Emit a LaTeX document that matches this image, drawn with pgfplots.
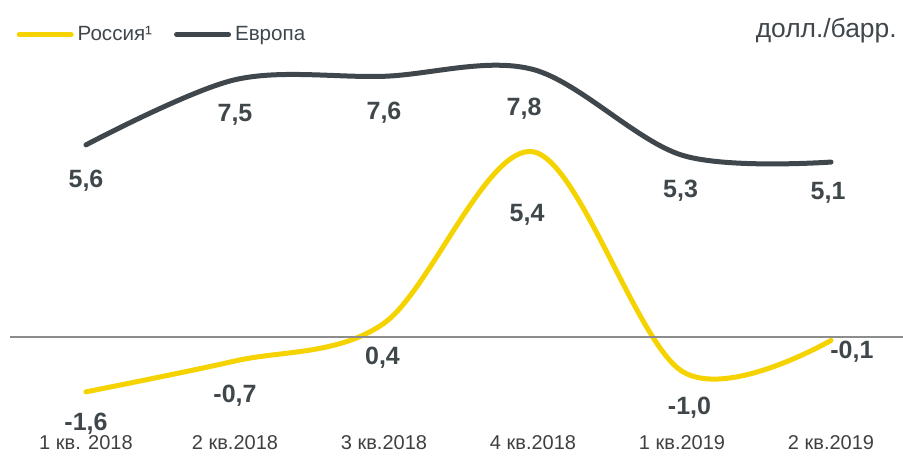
\documentclass[border=0pt]{standalone}
\usepackage{fontspec}
\setmainfont{Liberation Sans}
\usepackage{pgfplots}
\pgfplotsset{compat=1.18}
\definecolor{ruyel}{HTML}{F5D300}
\definecolor{eudark}{HTML}{3F474C}
\definecolor{lbl}{HTML}{3F474B}
\definecolor{tickc}{HTML}{404040}
\definecolor{zeroc}{HTML}{8C8C8C}
\begin{document}
\begin{tikzpicture}
\begin{axis}[
  scale only axis,
  width=451.5pt, height=216pt,
  xmin=-0.577, xmax=5.483,
  ymin=-2.77, ymax=9.825,
  axis line style={draw=none},
  tick style={draw=none},
  ytick=\empty,
  xtick={0,1,2,3,4,5},
  xticklabels={1 кв. 2018, 2 кв.2018, 3 кв.2018, 4 кв.2018, 1 кв.2019, 2 кв.2019},
  xticklabel style={font=\fontsize{10}{12}\selectfont, text=tickc, anchor=north, inner sep=0pt, yshift=-1.5pt},
  clip=false,
  legend columns=2,
  legend cell align=left,
  legend style={at={(0.018,0.95)}, anchor=north west, draw=none, fill=none, inner sep=0pt,
    font=\fontsize{10.3}{12}\selectfont, text=eudark,
    /tikz/every even column/.append style={column sep=9pt}},
  legend image code/.code={\draw[#1, line cap=round] (0pt,0pt) -- (26pt,0pt);},
]
\addplot[ruyel, line width=2.5pt, line cap=round, smooth, tension=0.55] coordinates {
  (0,-1.6) (1,-0.7) (2,0.4) (3,5.4) (4,-1.0) (5,-0.1)};
\addlegendentry{Россия¹}
\addplot[eudark, line width=2.5pt, line cap=round, smooth, tension=0.55] coordinates {
  (0,5.6) (1,7.5) (2,7.6) (3,7.8) (4,5.3) (5,5.1)};
\addlegendentry{Европа}
\addplot[zeroc, line width=0.75pt, forget plot] coordinates {(-0.51,0) (5.483,0)};
\begin{scope}[every node/.style={font=\bfseries\fontsize{12.5}{14}\selectfont, text=lbl}]
\node at (axis cs:0,4.55) {5,6};
\node at (axis cs:1,6.47) {7,5};
\node at (axis cs:2,6.53) {7,6};
\node at (axis cs:2.94,6.65) {7,8};
\node at (axis cs:3.99,4.26) {5,3};
\node at (axis cs:4.98,4.2) {5,1};
\node at (axis cs:0,-2.54) {-1,6};
\node at (axis cs:1.0,-1.72) {-0,7};
\node at (axis cs:1.99,-0.61) {0,4};
\node at (axis cs:2.96,3.56) {5,4};
\node at (axis cs:4.05,-2.07) {-1,0};
\node at (axis cs:5.14,-0.44) {-0,1};
\end{scope}
\node[anchor=east, font=\fontsize{13.2}{15}\selectfont, text=eudark, inner sep=0pt] at (rel axis cs:0.9934,0.93) {долл./барр.};
\end{axis}
\pgfresetboundingbox
\path (current axis.south west) ++(0,-12pt) rectangle (current axis.north east);
\end{tikzpicture}
\end{document}
